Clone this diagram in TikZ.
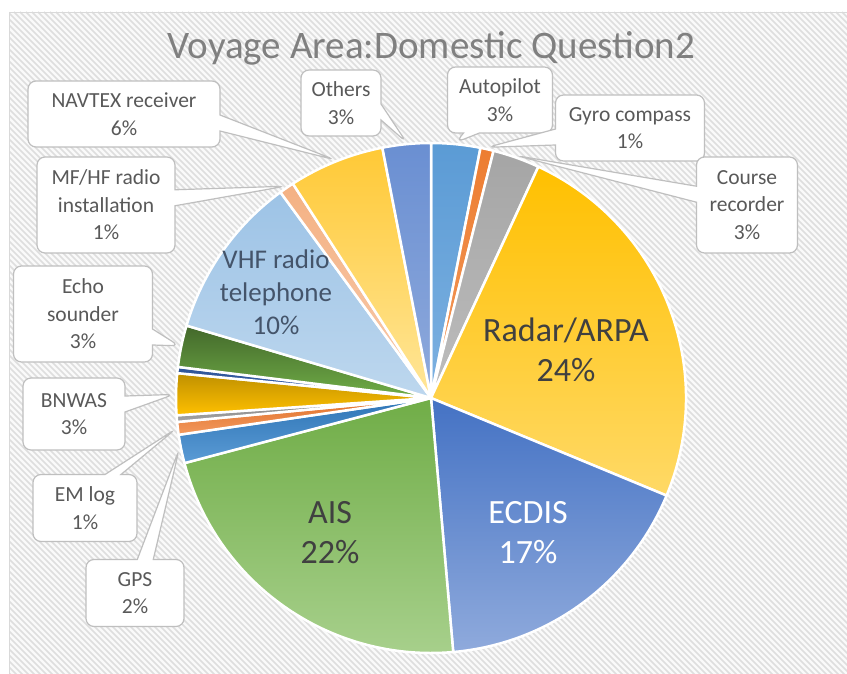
\documentclass[tikz,border=0pt]{standalone}
\usepackage{fontspec}
\setmainfont{Carlito}
\usetikzlibrary{shapes.callouts}
\definecolor{bgfill}{HTML}{FAFAFA}
\definecolor{stripeC}{HTML}{DEDEDE}
\definecolor{frameC}{HTML}{D9D9D9}
\definecolor{boxC}{HTML}{BFBFBF}
\definecolor{labC}{HTML}{595959}
\definecolor{titleC}{HTML}{808080}
\definecolor{darkT}{HTML}{404040}
\definecolor{vhfT}{HTML}{44546A}
\definecolor{autoT}{HTML}{5B9BD5}\definecolor{autoB}{HTML}{7DB1E1}
\definecolor{gyroT}{HTML}{ED7D31}\definecolor{gyroB}{HTML}{F29A5E}
\definecolor{courseT}{HTML}{A5A5A5}\definecolor{courseB}{HTML}{BDBDBD}
\definecolor{radarT}{HTML}{FFC000}\definecolor{radarB}{HTML}{FFD966}
\definecolor{ecdisT}{HTML}{4472C4}\definecolor{ecdisB}{HTML}{8FAADC}
\definecolor{aisT}{HTML}{70AD47}\definecolor{aisB}{HTML}{A9D18E}
\definecolor{gpsT}{HTML}{2E75B6}\definecolor{gpsB}{HTML}{5B9BD5}
\definecolor{emT}{HTML}{E0702A}\definecolor{emB}{HTML}{F2995E}
\definecolor{grT}{HTML}{7F7F7F}\definecolor{grB}{HTML}{A5A5A5}
\definecolor{bnT}{HTML}{BF9000}\definecolor{bnB}{HTML}{FFC000}
\definecolor{dbT}{HTML}{2F5597}\definecolor{dbB}{HTML}{3A64B0}
\definecolor{echoT}{HTML}{43682B}\definecolor{echoB}{HTML}{70AD47}
\definecolor{vhfCT}{HTML}{9DC3E6}\definecolor{vhfCB}{HTML}{BDD7EE}
\definecolor{mfT}{HTML}{F4B183}\definecolor{mfB}{HTML}{F8CBAD}
\definecolor{navT}{HTML}{FFC936}\definecolor{navB}{HTML}{FFE699}
\definecolor{othT}{HTML}{6A8FD2}\definecolor{othB}{HTML}{8FAADC}
\newcommand\pieslice[4]{%
  \path[draw=white, line width=2.5pt, line join=round, top color=#3, bottom color=#4]
    (C) -- ([shift={(90-#1:255)}]C) arc[start angle=90-#1, end angle=90-#2, radius=255] -- cycle;}
\tikzset{
  lab/.style={rectangle callout, draw=boxC, fill=white, rounded corners=8pt,
    line width=1.2pt, align=center, inner sep=0pt, text=labC,
    font=\fontsize{21.5}{27.5}\selectfont, callout pointer width=16pt},
  two/.style={minimum height=66pt},
  three/.style={minimum height=96pt},
  inlab/.style={align=center, inner sep=0pt, font=\fontsize{34}{40}\selectfont},
}
\begin{document}
\begin{tikzpicture}[x=1pt,y=1pt]
\useasboundingbox (0,0) rectangle (847,-674);
% background
\fill[bgfill] (9,-12) rectangle (847,-674);
\begin{scope}
  \clip (9,-12) rectangle (847,-674);
  \foreach \a in {-700,-694,...,850} \draw[stripeC, line width=1.6pt] (\a,-12) -- ++(670,-670);
\end{scope}
\draw[frameC, line width=0.8pt] (847,-12) -- (9,-12) -- (9,-674);
% pie
\coordinate (C) at (431,-398);
\pieslice{0}{11.2}{autoT}{autoB}
\pieslice{11.2}{14.2}{gyroT}{gyroB}
\pieslice{14.2}{24.9}{courseT}{courseB}
\pieslice{24.9}{112.5}{radarT}{radarB}
\pieslice{112.5}{175}{ecdisT}{ecdisB}
\pieslice{175}{255.2}{aisT}{aisB}
\pieslice{255.2}{261.7}{gpsT}{gpsB}
\pieslice{261.7}{264.6}{emT}{emB}
\pieslice{264.6}{266.1}{grT}{grB}
\pieslice{266.1}{275.6}{bnT}{bnB}
\pieslice{275.6}{277.0}{dbT}{dbB}
\pieslice{277.0}{286.5}{echoT}{echoB}
\pieslice{286.5}{323.8}{vhfCT}{vhfCB}
\pieslice{323.8}{327.2}{mfT}{mfB}
\pieslice{327.2}{349}{navT}{navB}
\pieslice{349}{360}{othT}{othB}
% inside labels
\node[inlab, text=darkT] (radar) at (566,-350) {Radar/ARPA\\24\%};
\node[inlab, text=white] (ecdis) at (528,-533) {ECDIS\\17\%};
\node[inlab, text=darkT] (ais) at (330,-533) {AIS\\22\%};
\node[inlab, text=vhfT, font=\fontsize{27}{33}\selectfont] (vhf) at (276,-292) {VHF radio\\telephone\\10\%};
% title
\node[anchor=base, text=titleC, font=\fontsize{39}{44}\selectfont, inner sep=0pt] (title) at (431,-59) {Voyage Area:Domestic Question2};
% callout tips
\coordinate (tAuto) at ([shift={(90-5.6:257)}]C);
\coordinate (tGyro) at ([shift={(90-12.7:257)}]C);
\coordinate (tCourse) at ([shift={(90-19.5:257)}]C);
\coordinate (tGPS) at ([shift={(90-258.5:257)}]C);
\coordinate (tEM) at ([shift={(90-263.1:257)}]C);
\coordinate (tBNWAS) at ([shift={(90-270.8:257)}]C);
\coordinate (tEcho) at ([shift={(90-281.7:257)}]C);
\coordinate (tMF) at ([shift={(90-325.5:257)}]C);
\coordinate (tNAV) at ([shift={(90-338:257)}]C);
\coordinate (tOth) at ([shift={(90-354.5:257)}]C);
% callouts
\node[lab, two, minimum width=192pt, callout absolute pointer={(tNAV)}] (navtex) at (124,-114) {NAVTEX receiver\\6\%};
\node[lab, three, minimum width=138pt, callout absolute pointer={(tMF)}] (mfhf) at (106,-205) {MF/HF radio\\installation\\1\%};
\node[lab, two, minimum width=80pt, callout absolute pointer={(tOth)}] (others) at (341,-103) {Others\\3\%};
\node[lab, two, minimum width=105pt, callout absolute pointer={(tAuto)}] (autopilot) at (500,-100) {Autopilot\\3\%};
\node[lab, two, minimum width=149pt, callout absolute pointer={(tGyro)}] (gyro) at (630,-128) {Gyro compass\\1\%};
\node[lab, three, minimum width=101pt, callout absolute pointer={(tCourse)}] (course) at (747,-205) {Course\\recorder\\3\%};
\node[lab, three, minimum width=139pt, callout absolute pointer={(tEcho)}] (echo) at (83,-314) {Echo\\sounder\\3\%};
\node[lab, minimum height=72pt, minimum width=102pt, callout absolute pointer={(tBNWAS)}] (bnwas) at (74,-414) {BNWAS\\3\%};
\node[lab, minimum height=67pt, minimum width=104pt, callout absolute pointer={(tEM)}] (emlog) at (85,-508) {EM log\\1\%};
\node[lab, minimum height=67pt, minimum width=98pt, callout absolute pointer={(tGPS)}] (gps) at (135,-593) {GPS\\2\%};
\end{tikzpicture}
\end{document}
